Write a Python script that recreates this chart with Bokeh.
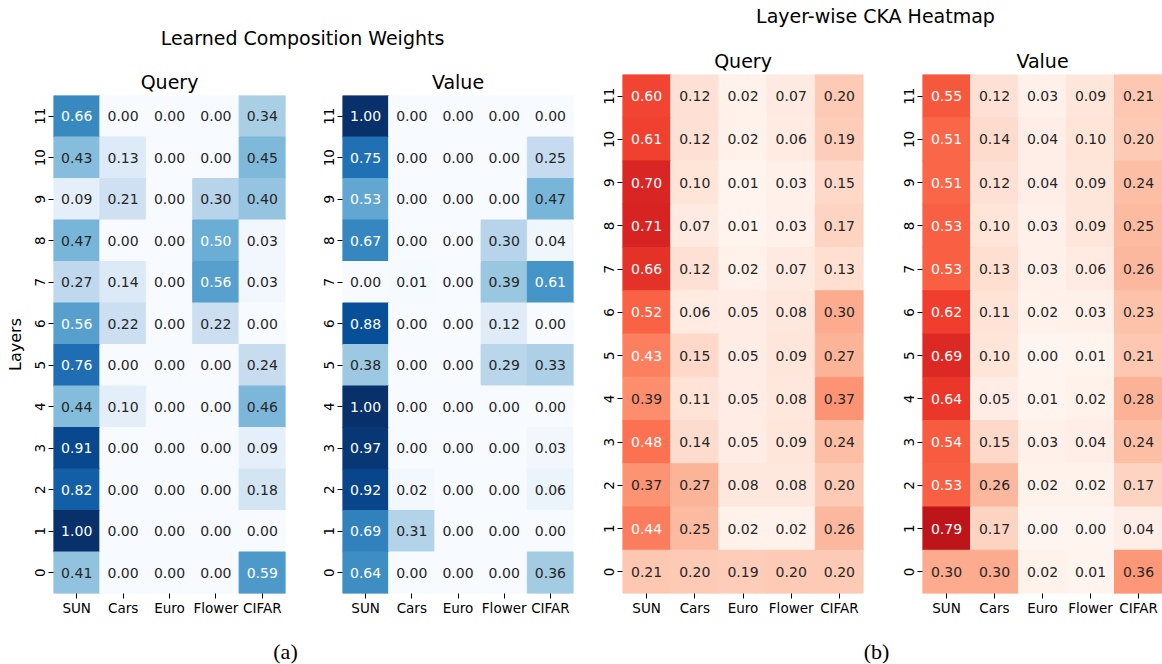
import numpy as np
from bokeh.plotting import figure
from bokeh.models import ColumnDataSource, FactorRange, Range1d, Label
from bokeh.layouts import row, column
from bokeh.core.properties import value
from bokeh.embed import file_html
from bokeh.resources import INLINE

# ---------------- data ----------------
datasets = ["SUN", "Cars", "Euro", "Flower", "CIFAR"]
layers = [str(i) for i in range(12)]          # bottom (0) to top (11)

# rows are listed from layer 11 (top) down to layer 0 (bottom)
comp_query = [
    [0.66, 0.00, 0.00, 0.00, 0.34],
    [0.43, 0.13, 0.00, 0.00, 0.45],
    [0.09, 0.21, 0.00, 0.30, 0.40],
    [0.47, 0.00, 0.00, 0.50, 0.03],
    [0.27, 0.14, 0.00, 0.56, 0.03],
    [0.56, 0.22, 0.00, 0.22, 0.00],
    [0.76, 0.00, 0.00, 0.00, 0.24],
    [0.44, 0.10, 0.00, 0.00, 0.46],
    [0.91, 0.00, 0.00, 0.00, 0.09],
    [0.82, 0.00, 0.00, 0.00, 0.18],
    [1.00, 0.00, 0.00, 0.00, 0.00],
    [0.41, 0.00, 0.00, 0.00, 0.59],
]
comp_value = [
    [1.00, 0.00, 0.00, 0.00, 0.00],
    [0.75, 0.00, 0.00, 0.00, 0.25],
    [0.53, 0.00, 0.00, 0.00, 0.47],
    [0.67, 0.00, 0.00, 0.30, 0.04],
    [0.00, 0.01, 0.00, 0.39, 0.61],
    [0.88, 0.00, 0.00, 0.12, 0.00],
    [0.38, 0.00, 0.00, 0.29, 0.33],
    [1.00, 0.00, 0.00, 0.00, 0.00],
    [0.97, 0.00, 0.00, 0.00, 0.03],
    [0.92, 0.02, 0.00, 0.00, 0.06],
    [0.69, 0.31, 0.00, 0.00, 0.00],
    [0.64, 0.00, 0.00, 0.00, 0.36],
]
cka_query = [
    [0.60, 0.12, 0.02, 0.07, 0.20],
    [0.61, 0.12, 0.02, 0.06, 0.19],
    [0.70, 0.10, 0.01, 0.03, 0.15],
    [0.71, 0.07, 0.01, 0.03, 0.17],
    [0.66, 0.12, 0.02, 0.07, 0.13],
    [0.52, 0.06, 0.05, 0.08, 0.30],
    [0.43, 0.15, 0.05, 0.09, 0.27],
    [0.39, 0.11, 0.05, 0.08, 0.37],
    [0.48, 0.14, 0.05, 0.09, 0.24],
    [0.37, 0.27, 0.08, 0.08, 0.20],
    [0.44, 0.25, 0.02, 0.02, 0.26],
    [0.21, 0.20, 0.19, 0.20, 0.20],
]
cka_value = [
    [0.55, 0.12, 0.03, 0.09, 0.21],
    [0.51, 0.14, 0.04, 0.10, 0.20],
    [0.51, 0.12, 0.04, 0.09, 0.24],
    [0.53, 0.10, 0.03, 0.09, 0.25],
    [0.53, 0.13, 0.03, 0.06, 0.26],
    [0.62, 0.11, 0.02, 0.03, 0.23],
    [0.69, 0.10, 0.00, 0.01, 0.21],
    [0.64, 0.05, 0.01, 0.02, 0.28],
    [0.54, 0.15, 0.03, 0.04, 0.24],
    [0.53, 0.26, 0.02, 0.02, 0.17],
    [0.79, 0.17, 0.00, 0.00, 0.04],
    [0.30, 0.30, 0.02, 0.01, 0.36],
]

BLUES = ["#f7fbff", "#deebf7", "#c6dbef", "#9ecae1", "#6baed6",
         "#4292c6", "#2171b5", "#08519c", "#08306b"]
REDS = ["#fff5f0", "#fee0d2", "#fcbba1", "#fc9272", "#fb6a4a",
        "#ef3b2c", "#cb181d", "#a50f15", "#67000d"]


def _rgb(h):
    h = h.lstrip("#")
    return np.array([int(h[i:i + 2], 16) / 255.0 for i in (0, 2, 4)])


def cmap(anchors, v):
    # emulate a 256-entry matplotlib LinearSegmentedColormap, vmin=0, vmax=1
    idx = min(int(v * 256), 255)
    t = idx / 255.0 * (len(anchors) - 1)
    i = min(int(np.floor(t)), len(anchors) - 2)
    f = t - i
    return _rgb(anchors[i]) * (1 - f) + _rgb(anchors[i + 1]) * f


def to_hex(c):
    return "#%02x%02x%02x" % tuple(int(round(x * 255)) for x in c)


def rel_lum(c):
    lin = np.where(c <= 0.03928, c / 12.92, ((c + 0.055) / 1.055) ** 2.4)
    return 0.2126 * lin[0] + 0.7152 * lin[1] + 0.0722 * lin[2]


FONT = "DejaVu Sans"


def heatmap(rows, anchors, title, width, height, mbl, mbr, mbt, mbb, ylabel=None):
    xs, ys, fills, tcols, labels = [], [], [], [], []
    for r, vals in enumerate(rows):
        layer = str(11 - r)
        for ds, v in zip(datasets, vals):
            c = cmap(anchors, v)
            xs.append(ds)
            ys.append(layer)
            fills.append(to_hex(c))
            tcols.append("#262626" if rel_lum(c) > 0.408 else "#ffffff")
            labels.append("%.2f" % v)
    src = ColumnDataSource(dict(x=xs, y=ys, fill=fills, tcol=tcols, label=labels))
    p = figure(width=width, height=height,
               x_range=FactorRange(*datasets), y_range=FactorRange(*layers),
               output_backend="svg", toolbar_location=None,
               min_border_left=mbl, min_border_right=mbr,
               min_border_top=mbt, min_border_bottom=mbb)
    p.rect(x="x", y="y", width=1, height=1, source=src,
           fill_color="fill", line_color="fill", line_width=1)
    p.text(x="x", y="y", text="label", source=src, text_color="tcol",
           text_align="center", text_baseline="middle",
           text_font=value(FONT), text_font_size="14px")
    p.title.text = title
    p.title.align = "center"
    p.title.text_font = FONT
    p.title.text_font_size = "19px"
    p.title.text_font_style = "normal"
    p.title.text_color = "black"
    p.title.standoff = 6
    p.outline_line_color = None
    p.grid.visible = False
    p.background_fill_color = "white"
    for ax in (p.xaxis, p.yaxis):
        ax.axis_line_color = None
        ax.major_tick_line_color = "black"
        ax.major_tick_line_width = 1
        ax.major_tick_out = 5
        ax.major_tick_in = 0
        ax.minor_tick_line_color = None
        ax.major_label_text_font = FONT
        ax.major_label_text_font_size = "13.5px"
        ax.major_label_text_color = "black"
    p.xaxis.major_label_standoff = 1
    p.yaxis.major_label_standoff = 4
    p.yaxis.major_label_orientation = "vertical"
    if ylabel:
        p.yaxis.axis_label = ylabel
        p.yaxis.axis_label_text_font = FONT
        p.yaxis.axis_label_text_font_size = "16px"
        p.yaxis.axis_label_text_font_style = "normal"
        p.yaxis.axis_label_text_color = "black"
        p.yaxis.axis_label_standoff = 7
    return p


def text_fig(width, height, items):
    p = figure(width=width, height=height, title=None,
               x_range=Range1d(0, width), y_range=Range1d(height, 0),
               x_axis_type=None, y_axis_type=None, min_border=0,
               output_backend="svg", toolbar_location=None)
    p.outline_line_color = None
    p.grid.visible = False
    for x, y, txt, font, size in items:
        p.add_layout(Label(x=x, y=y, text=txt, text_align="center",
                           text_baseline="middle", text_font=font,
                           text_font_size=size, text_color="black"))
    return p


# ---------------- panel (a) ----------------
titleA = text_fig(590, 60, [(302, 37.5, "Learned Composition Weights", FONT, "19px")])
qA = heatmap(comp_query, BLUES, "Query", 313, 560, 53, 28, 35, 27, ylabel="Layers")
vA = heatmap(comp_value, BLUES, "Value", 277, 560, 29, 17, 35, 27)
capA = text_fig(590, 44, [(285, 31, "(a)", "Liberation Serif", "22px")])
panelA = column(titleA, row(qA, vA, spacing=0), capA, spacing=0)

# ---------------- panel (b) ----------------
titleB = text_fig(572, 40, [(285, 15, "Layer-wise CKA Heatmap", FONT, "19px")])
qB = heatmap(cka_query, REDS, "Query", 302, 580, 32, 29, 34, 27)
vB = heatmap(cka_value, REDS, "Value", 270, 580, 30, 0, 34, 27)
capB = text_fig(572, 44, [(286, 31, "(b)", "Liberation Serif", "22px")])
panelB = column(titleB, row(qB, vB, spacing=0), capB, spacing=0)

layout = row(panelA, panelB, spacing=0)

open("out.html", "w").write(file_html(layout, INLINE))
